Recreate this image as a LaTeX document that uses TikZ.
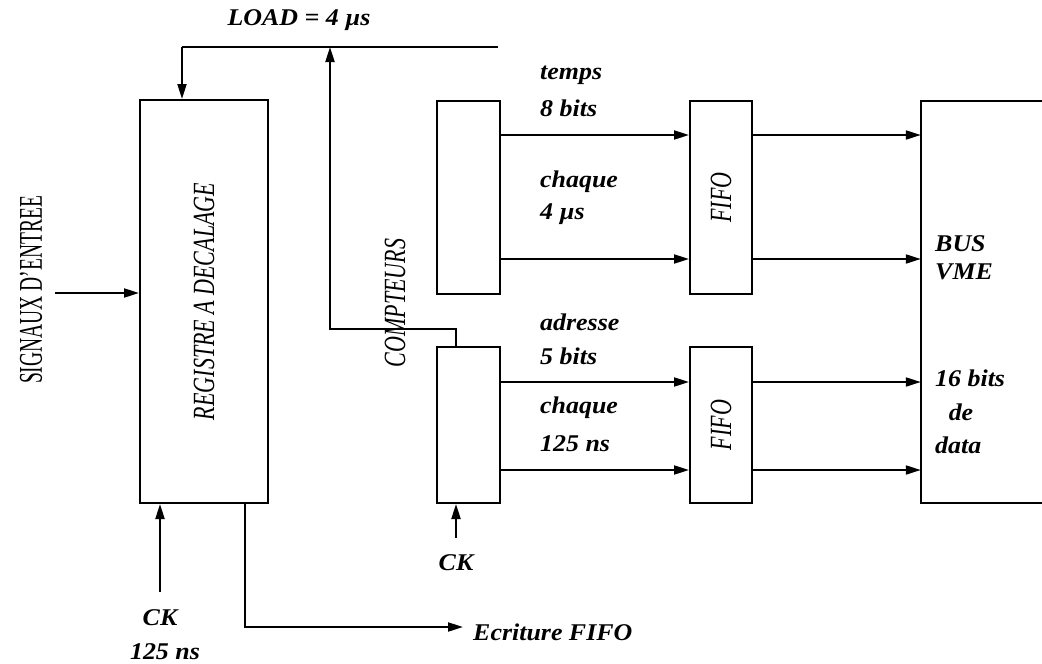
\documentclass[tikz,border=0pt]{standalone}
\usepackage{fontspec}
\setmainfont{Liberation Serif}
\usetikzlibrary{arrows.meta}
\begin{document}
\begin{tikzpicture}[x=1pt,y=-1pt,
  box/.style={draw, line width=2pt, inner sep=0pt},
  wire/.style={line width=2pt},
  arr/.style={wire,-{Triangle[length=15pt,width=9pt]}},
  lbl/.style={font=\fontsize{24}{26}\selectfont\bfseries\itshape, inner sep=0pt, xscale=1.08},
  vlbl/.style={font=\fontsize{22}{24}\selectfont\itshape, inner sep=0pt, xscale=1.4, rotate=90}]
\useasboundingbox (0,0) rectangle (1042,664);
% boxes
\node[box, minimum width=128pt, minimum height=403pt] (reg) at (204,301.5) {};
\node[box, minimum width=63pt, minimum height=193pt] (cu) at (468.5,197.5) {};
\node[box, minimum width=63pt, minimum height=156pt] (cl) at (468.5,425) {};
\node[box, minimum width=62pt, minimum height=193pt] (fu) at (721,197.5) {};
\node[box, minimum width=62pt, minimum height=156pt] (fl) at (721,425) {};
\node[inner sep=0pt, minimum width=125pt, minimum height=402pt] (bus) at (983.5,302) {};
\draw[wire] (bus.north east) -- (bus.north west) -- (bus.south west) -- (bus.south east);
% vertical texts
\node[vlbl] (tr) at (reg.center) {REGISTRE A DECALAGE};
\node[vlbl] (tc) at (395,303) {COMPTEURS};
\node[vlbl] (tf1) at (fu.center) {FIFO};
\node[vlbl] (tf2) at (fl.center) {FIFO};
\node[font=\fontsize{19.5}{22}\selectfont, inner sep=0pt, xscale=1.7, rotate=90] (ts) at (31,290) {SIGNAUX D'ENTREE};
% LOAD line
\coordinate (ld) at (182,47);
\coordinate (le) at (498,47);
\draw[wire] (ld) -- (le);
\draw[arr] (ld) -- (ld |- reg.north);
\coordinate (kn) at (330,329);
\coordinate (kt) at (456,329);
\draw[arr] (cl.north -| kt) -- (kt) -- (kn) -- (kn |- ld);
% inputs
\coordinate (si) at (55,293);
\draw[arr] (si) -- (si -| reg.west);
\coordinate (ck1) at (160,592);
\draw[arr] (ck1) -- (ck1 |- reg.south);
\coordinate (ew) at (245,627);
\coordinate (ee) at (463,627);
\draw[arr] (ew |- reg.south) -- (ew) -- (ee);
\coordinate (ck2) at (456,538);
\draw[arr] (ck2) -- (ck2 |- cl.south);
% data rows
\coordinate (r1) at (0,135);
\coordinate (r2) at (0,259);
\coordinate (r3) at (0,382);
\coordinate (r4) at (0,470);
\draw[arr] (cu.east |- r1) -- (fu.west |- r1);
\draw[arr] (cu.east |- r2) -- (fu.west |- r2);
\draw[arr] (cl.east |- r3) -- (fl.west |- r3);
\draw[arr] (cl.east |- r4) -- (fl.west |- r4);
\draw[arr] (fu.east |- r1) -- (bus.west |- r1);
\draw[arr] (fu.east |- r2) -- (bus.west |- r2);
\draw[arr] (fl.east |- r3) -- (bus.west |- r3);
\draw[arr] (fl.east |- r4) -- (bus.west |- r4);
% labels
\node[lbl] (load) at (299,20) {LOAD = 4 µs};
\node[lbl, anchor=west] (l1) at (540,75) {temps};
\node[lbl, anchor=west] (l2) at (540,108) {8 bits};
\node[lbl, anchor=west] (l3) at (540,182) {chaque};
\node[lbl, anchor=west] (l4) at (540,214) {4 µs};
\node[lbl, anchor=west] (l5) at (540,322) {adresse};
\node[lbl, anchor=west] (l6) at (540,356) {5 bits};
\node[lbl, anchor=west] (l7) at (540,408) {chaque};
\node[lbl, anchor=west] (l8) at (540,444) {125 ns};
\node[lbl, anchor=west] (b1) at (935,244) {BUS};
\node[lbl, anchor=west] (b2) at (935,272) {VME};
\node[lbl, anchor=west] (b3) at (935,378) {16 bits};
\node[lbl] (b4) at (961,412) {de};
\node[lbl, anchor=west] (b5) at (935,445) {data};
\node[lbl] (c1) at (160,618) {CK};
\node[lbl] (c2) at (165,652) {125 ns};
\node[lbl] (c3) at (456,563) {CK};
\node[lbl, anchor=west] (ef) at (473,632) {Ecriture FIFO};
\end{tikzpicture}
\end{document}
